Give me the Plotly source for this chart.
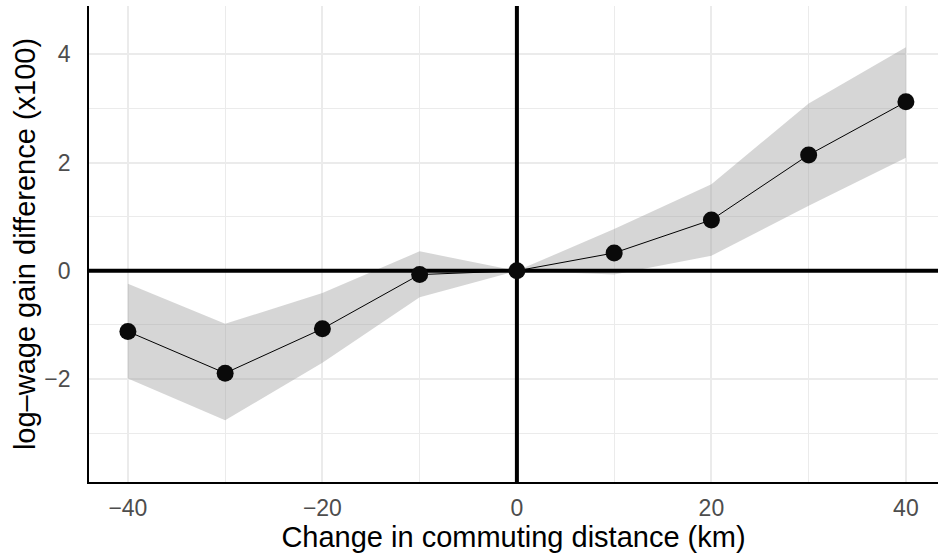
import plotly.graph_objects as go

# Change in commuting distance (km)
distance = [-40, -30, -20, -10, 0, 10, 20, 30, 40]
# Point estimates of the log-wage gain difference (x100)
estimate = [-1.12, -1.89, -1.07, -0.07, 0.0, 0.33, 0.94, 2.14, 3.12]
# Confidence band bounds
upper = [-0.24, -0.98, -0.41, 0.36, 0.0, 0.77, 1.60, 3.09, 4.13]
lower = [-1.99, -2.76, -1.70, -0.49, 0.0, -0.07, 0.28, 1.20, 2.09]

x_range = [-44.0, 43.3]
y_range = [-3.9, 4.89]

fig = go.Figure()

# shaded confidence band
fig.add_trace(go.Scatter(
    x=distance + distance[::-1],
    y=upper + lower[::-1],
    fill="toself", mode="lines",
    line=dict(width=0),
    fillcolor="rgba(153,153,153,0.4)",
    hoverinfo="skip", showlegend=False,
))

# reference lines through the origin
fig.add_trace(go.Scatter(x=x_range, y=[0, 0], mode="lines",
                         line=dict(color="black", width=4),
                         hoverinfo="skip", showlegend=False))
fig.add_trace(go.Scatter(x=[0, 0], y=y_range, mode="lines",
                         line=dict(color="black", width=4),
                         hoverinfo="skip", showlegend=False))

# estimates
fig.add_trace(go.Scatter(
    x=distance, y=estimate, mode="lines+markers",
    line=dict(color="black", width=1),
    marker=dict(color="#0a0a0a", size=17),
    showlegend=False,
))

font_family = "Liberation Sans, Arial, sans-serif"

fig.update_layout(
    width=938, height=555,
    margin=dict(l=89, r=0, t=6, b=73),
    paper_bgcolor="white", plot_bgcolor="white",
    font=dict(family=font_family),
)

fig.update_xaxes(
    range=x_range, tickvals=[-40, -20, 0, 20, 40],
    ticktext=["\u221240", "\u221220", "0", "20", "40"],
    showgrid=True, gridcolor="#EBEBEB", gridwidth=1.5,
    minor=dict(tickvals=[-30, -10, 10, 30], showgrid=True,
               gridcolor="#EBEBEB", gridwidth=0.8),
    zeroline=False, showline=True, linecolor="black", linewidth=1.6,
    ticks="", ticklabelstandoff=5,
    tickfont=dict(size=23, color="#4D4D4D"),
    title=dict(text="Change in commuting distance (km)",
               font=dict(size=29, color="black"), standoff=0),
)

fig.update_yaxes(
    range=y_range, tickvals=[-2, 0, 2, 4],
    ticktext=["\u22122", "0", "2", "4"],
    showgrid=True, gridcolor="#EBEBEB", gridwidth=1.5,
    minor=dict(tickvals=[-3, -1, 1, 3], showgrid=True,
               gridcolor="#EBEBEB", gridwidth=0.8),
    zeroline=False, showline=True, linecolor="black", linewidth=1.6,
    ticks="", ticklabelstandoff=12,
    tickfont=dict(size=23, color="#4D4D4D"),
    title=dict(text="log\u2013wage gain difference (x100)",
               font=dict(size=29, color="black"), standoff=0),
)

fig.write_html("out.html")
